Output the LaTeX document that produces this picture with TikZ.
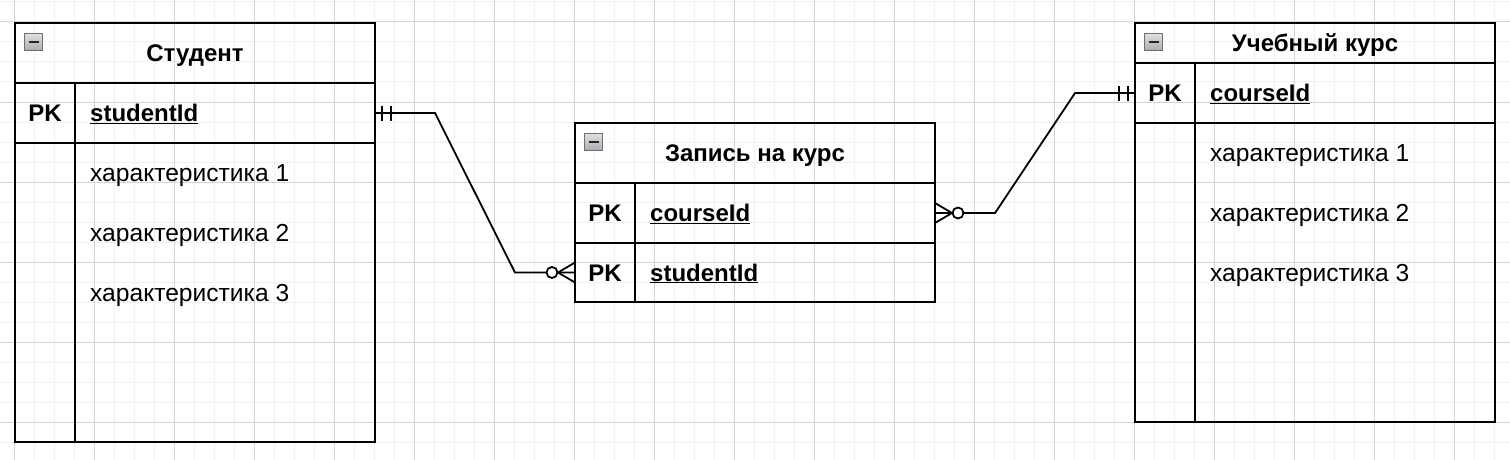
\documentclass[tikz,border=0pt]{standalone}
\usepackage{fontspec}
\setmainfont{Liberation Sans}
\usetikzlibrary{calc,positioning,decorations.markings}
\definecolor{gridminor}{HTML}{F0F0F0}
\definecolor{gridmajor}{HTML}{D4D4D4}
\definecolor{iconborder}{HTML}{6E6E7E}
\tikzset{
	% ------- every something
	every node/.style={
		font=\fontsize{24}{28}\selectfont,
		inner sep=0pt,
	},
	% ------- grid
	minor grid/.style={
		line width=1pt,
		gridminor,
	},
	major grid/.style={
		line width=1pt,
		gridmajor,
	},
	% ------- text
	label text/.style={
		text height=22pt,
		text depth=5pt,
	},
	% ------- tables
	entity head/.style={
		draw,
		label text,
		line width=2pt,
		outer sep=0pt,
		minimum width=360pt,
		anchor=north west,
		font=\fontsize{24}{28}\selectfont\bfseries,
	},
	entity row/.style={
		draw,
		line width=2pt,
		outer sep=0pt,
		minimum width=360pt,
		minimum height=60pt,
	},
	table line/.style={
		line width=2pt,
	},
	key label/.style={
		label text,
		font=\fontsize{24}{28}\selectfont\bfseries,
	},
	key field/.style={
		label text,
		anchor=west,
		font=\fontsize{24}{28}\selectfont\bfseries,
	},
	attribute/.style={
		label text,
		anchor=west,
		font=\fontsize{24.6}{28}\selectfont,
	},
	collapse icon/.style={
		draw=iconborder,
		line width=1.4pt,
		top color=gray!25,
		bottom color=gray!65,
		minimum width=18pt,
		minimum height=17pt,
		path picture={
			\draw[line width=2pt, black!85]
			($(path picture bounding box.west)+(4pt,0)$) --
			($(path picture bounding box.east)+(-4pt,0)$);
		},
	},
	% ------- connectors
	link/.style={
		line width=1.8pt,
	},
	one to many/.style={
		postaction={
			decorate,
			decoration={
				markings,
				mark=at position 7pt with {\draw[link] (0,-7.5) -- (0,7.5);},
				mark=at position 16pt with {\draw[link] (0,-7.5) -- (0,7.5);},
				mark=at position -23pt with {\draw[link, fill=white] (0,0) circle (5.5pt);},
				mark=at position -17pt with {\draw[link] (17,-10) -- (0,0) -- (17,10);},
			}
		}
	},
}

\begin{document}
\begin{tikzpicture}[x=1pt, y=-1pt]

% canvas %{{{1

	\fill[white] (0,0) rectangle (1510,460);
	\useasboundingbox (0,0) rectangle (1510,460);

	\foreach \gx in {0,...,74} {
		\draw[minor grid] ({14+20*\gx},0) -- ({14+20*\gx},460);
	}
	\foreach \gy in {0,...,22} {
		\draw[minor grid] (0,{2+20*\gy}) -- (1510,{2+20*\gy});
	}
	\foreach \gx in {0,...,18} {
		\draw[major grid] ({14+80*\gx},0) -- ({14+80*\gx},460);
	}
	\foreach \gy in {0,...,5} {
		\draw[major grid] (0,{22+80*\gy}) -- (1510,{22+80*\gy});
	}

% student %{{{1

	\node[entity head, minimum height=60pt] (student) at (15,23) {Студент};
	\node[entity row, below=0pt of student] (studentpk) {};
	\node[entity row, below=0pt of studentpk, minimum height=299pt] (studentbody) {};
	\draw[table line] ($(studentpk.north west)+(60,0)$) -- ($(studentbody.south west)+(60,0)$);

	\node[collapse icon, below right=10pt and 9pt of student.north west] (studenticon) {};

	\node[key label] (studentpklabel) at ($(studentpk.west)+(30,0)$) {PK};
	\node[key field] (studentid) at ($(studentpk.west)+(75,0)$) {\underline{studentId}};
	\foreach \i in {1,2,3} {
		\node[attribute] (studentattr\i) at ($(studentbody.north west)+(75,{30+60*(\i-1)})$) {характеристика \i};
	}

% enrolment %{{{1

	\node[entity head, minimum height=60pt] (enrol) at (575,123) {Запись на курс};
	\node[entity row, below=0pt of enrol] (enrolcourse) {};
	\node[entity row, below=0pt of enrolcourse, minimum height=59pt] (enrolstudent) {};
	\draw[table line] ($(enrolcourse.north west)+(60,0)$) -- ($(enrolstudent.south west)+(60,0)$);

	\node[collapse icon, below right=10pt and 9pt of enrol.north west] (enrolicon) {};

	\node[key label] (enrolcourselabel) at ($(enrolcourse.west)+(30,0)$) {PK};
	\node[key field] (enrolcourseid) at ($(enrolcourse.west)+(75,0)$) {\underline{courseId}};
	\node[key label] (enrolstudentlabel) at ($(enrolstudent.west)+(30,0)$) {PK};
	\node[key field] (enrolstudentid) at ($(enrolstudent.west)+(75,0)$) {\underline{studentId}};

% course %{{{1

	\node[entity head, minimum height=40pt] (course) at (1135,23) {Учебный курс};
	\node[entity row, below=0pt of course] (coursepk) {};
	\node[entity row, below=0pt of coursepk, minimum height=299pt] (coursebody) {};
	\draw[table line] ($(coursepk.north west)+(60,0)$) -- ($(coursebody.south west)+(60,0)$);

	\node[collapse icon, below right=10pt and 9pt of course.north west] (courseicon) {};

	\node[key label] (coursepklabel) at ($(coursepk.west)+(30,0)$) {PK};
	\node[key field] (courseid) at ($(coursepk.west)+(75,0)$) {\underline{courseId}};
	\foreach \i in {1,2,3} {
		\node[attribute] (courseattr\i) at ($(coursebody.north west)+(75,{30+60*(\i-1)})$) {характеристика \i};
	}

% connectors %{{{1

	\draw[link, one to many] (studentpk.east) -- ++(60,0)
		-- ($(enrolstudent.west)+(-60,0)$) -- (enrolstudent.west);
	\draw[link, one to many] (coursepk.west) -- ++(-60,0)
		-- ($(enrolcourse.east)+(60,0)$) -- (enrolcourse.east);

% closing %{{{1

\end{tikzpicture}
\end{document}
